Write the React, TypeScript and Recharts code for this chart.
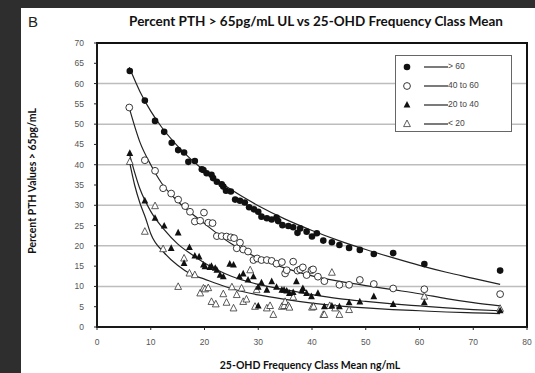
import { ComposedChart, Scatter, Line, XAxis, YAxis, CartesianGrid, ReferenceArea } from "recharts";

// scatter points: [25-OHD class mean, % PTH > 65]
const above60: [number, number][] = [
  [6.1, 63.1], [8.9, 55.8], [10.8, 50.8], [12.5, 48.1], [13.9, 45.4], [15.1, 43.6], [16.2, 43.0],
  [17.0, 40.7], [18.2, 40.9], [19.5, 38.9], [19.8, 38.7], [20.4, 37.9], [21.3, 37.5], [21.6, 36.7],
  [22.3, 35.8], [23.2, 35.2], [23.5, 34.6], [24.0, 33.6], [24.9, 33.4], [25.7, 31.4], [26.6, 31.1],
  [27.5, 30.7], [28.3, 29.5], [29.2, 29.0], [30.0, 28.4], [30.6, 27.2], [31.6, 26.8], [32.5, 26.5],
  [33.4, 27.0], [33.7, 26.1], [34.5, 25.1], [35.6, 24.9], [36.5, 24.6], [37.3, 23.2], [37.8, 24.3],
  [39.0, 23.5], [40.0, 22.3], [40.9, 23.1], [42.1, 21.3], [43.7, 20.9], [45.1, 20.2], [46.9, 19.5],
  [48.9, 19.0], [51.5, 18.0], [55.1, 18.2], [60.9, 15.5], [75, 13.9],
];
const from40to60: [number, number][] = [
  [6.0, 54.1], [8.9, 41.1], [10.8, 38.5], [12.3, 34.2], [13.8, 32.9], [15.1, 31.4], [16.4, 29.8],
  [17.3, 28.4], [18.2, 26.0], [19.2, 26.2], [19.9, 28.2], [20.7, 25.7], [21.5, 25.6], [22.3, 22.4],
  [23.2, 22.4], [24.1, 22.3], [24.9, 22.1], [25.5, 21.9], [26.6, 20.8], [26.0, 19.4], [27.2, 19.1],
  [28.1, 18.6], [29.1, 16.5], [29.8, 16.9], [30.6, 16.5], [31.6, 16.5], [32.5, 16.3], [33.4, 15.6],
  [34.4, 16.0], [35.0, 13.2], [35.3, 14.0], [36.5, 16.1], [37.3, 13.9], [37.8, 14.2], [38.3, 14.7],
  [39.0, 12.8], [39.9, 14.0], [40.2, 14.2], [41.1, 12.4], [42.3, 11.3], [45.1, 10.4], [46.9, 10.4],
  [48.9, 11.6], [51.5, 10.6], [55.1, 9.5], [60.9, 9.3], [75, 8.1],
];
const from20to40: [number, number][] = [
  [6.1, 42.8], [8.9, 31.1], [10.8, 26.8], [12.5, 24.9], [13.8, 19.4], [15.1, 23.2], [16.2, 15.7],
  [17.2, 19.6], [18.2, 17.5], [19.0, 17.3], [19.8, 15.3], [20.1, 14.9], [21.0, 14.7], [21.3, 15.0],
  [22.0, 14.5], [22.3, 14.0], [22.9, 12.8], [23.5, 12.4], [24.7, 15.5], [25.4, 15.3], [26.5, 12.4],
  [27.2, 13.1], [28.1, 11.6], [29.1, 12.4], [30.0, 9.8], [30.0, 5.2], [30.6, 10.9], [31.6, 9.1],
  [32.5, 11.2], [33.4, 9.8], [34.4, 9.1], [34.8, 9.1], [35.3, 8.9], [35.8, 8.3], [36.5, 8.5],
  [37.1, 11.2], [38.1, 8.9], [38.3, 9.5], [39.0, 8.3], [39.9, 7.5], [41.1, 8.3], [42.3, 5.0],
  [43.7, 5.2], [45.1, 5.0], [46.9, 6.0], [48.9, 6.2], [51.5, 7.5], [55.1, 5.6], [60.9, 6.0], [75, 4.0],
];
const below20: [number, number][] = [
  [6.1, 40.7], [8.9, 23.5], [10.8, 29.8], [12.3, 19.2], [15.1, 9.9], [16.2, 16.9], [17.2, 13.2],
  [18.2, 12.8], [19.2, 8.3], [19.8, 9.5], [20.1, 9.3], [20.7, 9.6], [21.3, 6.2], [22.1, 5.6],
  [23.5, 8.1], [24.1, 6.0], [25.1, 9.8], [25.4, 4.6], [26.0, 7.9], [26.9, 9.5], [27.2, 6.2],
  [27.8, 6.8], [28.5, 14.0], [29.4, 5.0], [29.7, 9.1], [31.6, 4.6], [32.2, 5.2], [32.8, 3.0],
  [34.4, 5.0], [34.8, 5.2], [35.0, 6.2], [35.6, 5.2], [35.8, 4.8], [36.5, 7.3], [40.0, 4.8],
  [40.3, 5.0], [42.1, 3.0], [42.3, 3.0], [43.3, 5.2], [43.7, 13.4], [44.3, 4.6], [45.1, 3.0],
  [46.9, 4.2], [60.9, 7.5], [75, 4.5],
];

// trend lines
const trendAbove60: [number, number][] = [
  [6, 64], [8, 58], [10, 53.2], [12, 49.3], [15, 44.6], [20, 38.5], [25, 33.8], [30, 29.9], [35, 26.6],
  [40, 23.8], [45, 21.3], [50, 19.1], [55, 17.1], [60, 15.2], [65, 13.5], [70, 12], [75, 10.5],
];
const trend40to60: [number, number][] = [
  [6, 54], [8, 45.5], [10, 40], [12, 35.5], [15, 31], [20, 25.5], [25, 20.5], [30, 17], [35, 14.5],
  [40, 12.6], [45, 11.3], [50, 10.2], [55, 9.2], [60, 8.2], [65, 7], [70, 6], [75, 5.2],
];
const trend20to40: [number, number][] = [
  [6, 42.8], [8, 34], [10, 28.5], [12.5, 24], [15, 20.5], [17.5, 18], [20, 15.8], [22.5, 14], [25, 12.5],
  [30, 10.5], [35, 9.2], [40, 8], [45, 7], [50, 6.3], [55, 5.7], [60, 5.2], [65, 4.7], [70, 4.3], [75, 4.0],
];
const trendBelow20: [number, number][] = [
  [6, 41], [7, 35], [8, 30.5], [9, 27], [10, 23], [12.5, 18.3], [15, 15.2], [17.5, 13], [20, 11.8],
  [22.5, 10.6], [25, 9.5], [30, 7.9], [35, 6.8], [40, 5.9], [45, 5.2], [50, 4.7], [55, 4.3], [60, 4.0],
  [65, 3.7], [70, 3.5], [75, 3.3],
];

const xTicks = [0, 10, 20, 30, 40, 50, 60, 70, 80];
const yTicks = [0, 5, 10, 15, 20, 25, 30, 35, 40, 45, 50, 55, 60, 65, 70];
const legendLabels = ["> 60", "40 to 60", "20 to 40", "< 20"];

const toPts = (a: [number, number][]) => a.map(([x, y]) => ({ x, y }));

type Kind = "dot" | "ring" | "tri" | "otri";

function marker(kind: Kind, cx: number, cy: number) {
  if (kind === "dot") return <circle cx={cx} cy={cy} r={3.3} fill="#111" />;
  if (kind === "ring") return <circle cx={cx} cy={cy} r={3.4} fill="#fff" stroke="#222" strokeWidth={0.9} />;
  const pts = `${cx},${cy - 4} ${cx - 3.4},${cy + 2.6} ${cx + 3.4},${cy + 2.6}`;
  if (kind === "tri") return <polygon points={pts} fill="#111" />;
  return <polygon points={pts} fill="#fff" stroke="#333" strokeWidth={0.8} />;
}

const shapeOf = (kind: Kind) => (p: any) => marker(kind, p.cx, p.cy);

const series: { name: string; kind: Kind; data: [number, number][]; trend: [number, number][] }[] = [
  { name: "below20", kind: "otri", data: below20, trend: trendBelow20 },
  { name: "from20to40", kind: "tri", data: from20to40, trend: trend20to40 },
  { name: "from40to60", kind: "ring", data: from40to60, trend: trend40to60 },
  { name: "above60", kind: "dot", data: above60, trend: trendAbove60 },
];

const tickStyle = { fontSize: 8.5, fill: "#555", fontFamily: "Liberation Sans, Arial, sans-serif" };
const boldFont = "Lato, 'Noto Sans', sans-serif";

export default function App() {
  const legendKinds: Kind[] = ["dot", "ring", "tri", "otri"];
  return (
    <div style={{ position: "absolute", left: 0, top: 0, width: 535, height: 373, background: "#2e2e2e" }}>
      <div style={{ position: "absolute", left: 21, top: 8, width: 514, height: 365, background: "#fff" }}>
        <div style={{ position: "absolute", left: 7, top: 5, fontSize: 15, fontFamily: "Liberation Sans, Arial, sans-serif", color: "#222" }}>B</div>
        <div style={{ position: "absolute", left: 95, top: 5, width: 400, textAlign: "center", fontSize: 13.5, fontWeight: 700, fontFamily: boldFont, color: "#111" }}>
          Percent PTH &gt; 65pg/mL UL vs 25-OHD Frequency Class Mean
        </div>
        <ComposedChart width={514} height={365} margin={{ top: 35, right: 8, bottom: 26, left: 40 }}>
          <CartesianGrid horizontal vertical={false} stroke="#bdbdbd" strokeWidth={1.5} />
          <XAxis
            type="number"
            dataKey="x"
            domain={[0, 80]}
            ticks={xTicks}
            height={20}
            tick={tickStyle}
            tickSize={3}
            tickMargin={9}
            stroke="#222"
            allowDuplicatedCategory={false}
          />
          <YAxis
            type="number"
            dataKey="y"
            domain={[0, 70]}
            ticks={yTicks}
            width={36}
            tick={tickStyle}
            tickSize={3}
            tickMargin={10}
            stroke="#222"
          />
          <ReferenceArea x1={0} x2={80} y1={0} y2={70} fill="none" stroke="#111" strokeWidth={2} ifOverflow="visible" />
          {series.map((s) => (
            <Line
              key={s.name + "-trend"}
              data={toPts(s.trend)}
              dataKey="y"
              type="monotone"
              stroke="#222"
              strokeWidth={1.2}
              dot={false}
              activeDot={false}
              isAnimationActive={false}
            />
          ))}
          {series.map((s) => (
            <Scatter key={s.name} data={toPts(s.data)} dataKey="y" shape={shapeOf(s.kind)} isAnimationActive={false} />
          ))}
        </ComposedChart>
        <div
          style={{
            position: "absolute",
            left: 11,
            top: 173,
            transform: "translate(-50%, -50%) rotate(-90deg)",
            whiteSpace: "nowrap",
            fontSize: 10.5,
            fontWeight: 700,
            fontFamily: boldFont,
            color: "#111",
          }}
        >
          Percent PTH Values &gt; 65pg/mL
        </div>
        <div style={{ position: "absolute", left: 89, top: 351, width: 400, textAlign: "center", fontSize: 10.5, fontWeight: 700, fontFamily: boldFont, color: "#111" }}>
          25-OHD Frequency Class Mean ng/mL
        </div>
        <div style={{ position: "absolute", left: 374, top: 47, width: 117, height: 77, border: "1px solid #666", background: "#fff", boxSizing: "border-box" }}>
          {legendLabels.map((lab, i) => (
            <div key={lab} style={{ position: "absolute", left: 0, top: 3 + i * 19, height: 16, width: 115 }}>
              <svg width={115} height={16} style={{ position: "absolute", left: 0, top: 0 }}>
                {marker(legendKinds[i], 11, 8)}
                <line x1={28} x2={52} y1={8} y2={8} stroke="#222" strokeWidth={1.2} />
              </svg>
              <span style={{ position: "absolute", left: 52, top: 2, fontSize: 8.5, fontFamily: "Liberation Sans, Arial, sans-serif", color: "#444" }}>{lab}</span>
            </div>
          ))}
        </div>
      </div>
    </div>
  );
}
